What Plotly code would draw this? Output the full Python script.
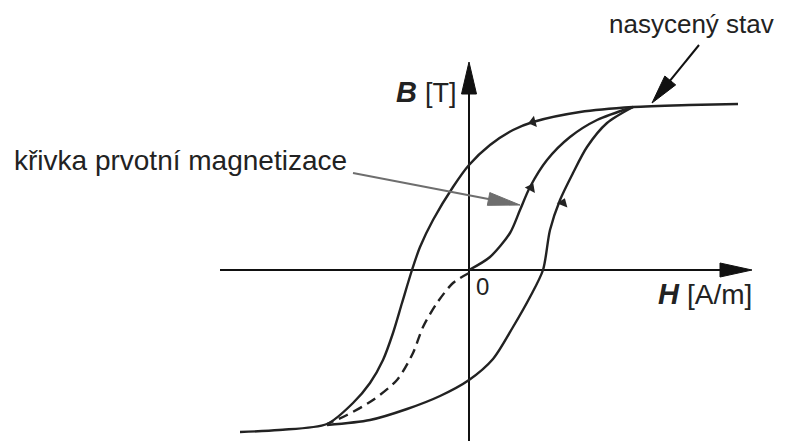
import plotly.graph_objects as go
import math

# hysteresis loop, H and B (origin = axis crossing)
H_upper = [269, 220, 164, 111, 64, 44, 21, 0, -16, -36, -49, -57, -67, -76, -86, -99, -116, -142, -190, -229]
B_upper = [166, 165, 163, 158, 148, 140, 125, 105, 83, 50, 23, 0, -33, -63, -90, -113, -133, -154, -160, -162]

H_lower = [-142, -99, -62, -29, 0, 24, 44, 61, 74, 81, 91, 104, 118, 138, 164]
B_lower = [-155, -150, -139, -126, -110, -89, -57, -27, 0, 40, 70, 97, 123, 147, 163]

H_init = [0, 21, 41, 51, 61, 78, 101, 128, 164]
B_init = [0, 13, 37, 60, 83, 110, 133, 150, 163]

H_dash = [0, -16, -32, -46, -56, -72, -96, -122, -142]
B_dash = [-3, -13, -33, -57, -83, -110, -130, -145, -154]

# direction marks sitting on the curves
H_marks = [64, 62, 94]
B_marks = [148, 82, 67]
mark_angles = [255, 28, 22]

INK = "#222222"
GREY = "#6e6e6e"
FONT = "Liberation Sans, Arial"


def head(tip, tail, length, width, color):
    dx, dy = tip[0] - tail[0], tip[1] - tail[1]
    n = math.hypot(dx, dy)
    ux, uy = dx / n, dy / n
    bx, by = tip[0] - ux * length, tip[1] - uy * length
    px, py = -uy * width / 2, ux * width / 2
    return go.Scatter(
        x=[tip[0], bx + px, bx - px, tip[0]],
        y=[tip[1], by + py, by - py, tip[1]],
        mode="lines", fill="toself", fillcolor=color,
        line=dict(color=color, width=1), hoverinfo="skip",
    )


def arrow(tail, tip, length, width, color, lw):
    dx, dy = tip[0] - tail[0], tip[1] - tail[1]
    n = math.hypot(dx, dy)
    stop = (tip[0] - dx / n * length * 0.8, tip[1] - dy / n * length * 0.8)
    return [
        go.Scatter(x=[tail[0], stop[0]], y=[tail[1], stop[1]], mode="lines",
                   line=dict(color=color, width=lw), hoverinfo="skip"),
        head(tip, tail, length, width, color),
    ]


fig = go.Figure()

# axes with arrows
fig.add_traces(arrow((-249, 0), (283, 0), 32, 14, "#111111", 2))
fig.add_traces(arrow((0, -171), (0, 208), 32, 15, "#111111", 2))

curve = dict(color=INK, width=2.4, shape="spline", smoothing=0.8)
fig.add_trace(go.Scatter(x=H_upper, y=B_upper, mode="lines", line=curve))
fig.add_trace(go.Scatter(x=H_lower, y=B_lower, mode="lines", line=curve))
fig.add_trace(go.Scatter(x=H_init, y=B_init, mode="lines", line=curve))
fig.add_trace(go.Scatter(x=H_dash, y=B_dash, mode="lines",
                         line=dict(curve, dash="10px,6px")))
fig.add_trace(go.Scatter(x=H_marks, y=B_marks, mode="markers",
                         marker=dict(symbol="triangle-up", size=10, color=INK,
                                     angle=mark_angles)))

# pointer arrows
fig.add_traces(arrow((230, 225), (183, 167), 29, 14, "#111111", 2))
fig.add_traces(arrow((-116, 97), (51, 65), 32, 13, GREY, 2))

fig.add_annotation(x=307, y=246, text="nasycený stav", showarrow=False,
                   xanchor="right", font=dict(size=26, color=INK))
fig.add_annotation(x=-457, y=110, text="křivka prvotní magnetizace", showarrow=False,
                   xanchor="left", font=dict(size=28, color=INK))
fig.add_annotation(x=-10, y=178, text="<b><i>B</i></b> <span style='font-size:27px'>[T]</span>",
                   showarrow=False, xanchor="right", font=dict(size=29, color=INK))
fig.add_annotation(x=285, y=-24, text="<b><i>H</i></b> <span style='font-size:28px'>[A/m]</span>",
                   showarrow=False, xanchor="right", font=dict(size=29, color=INK))
fig.add_annotation(x=13, y=-16, text="0", showarrow=False, font=dict(size=24, color=INK))

# page body keeps an 8px margin, so the figure is 8px smaller and starts 8px in
fig.update_layout(
    width=782, height=433,
    margin=dict(l=0, r=0, t=0, b=0),
    paper_bgcolor="white", plot_bgcolor="white",
    showlegend=False,
    font=dict(family=FONT, color=INK),
    xaxis=dict(range=[-461, 321], visible=False, fixedrange=True),
    yaxis=dict(range=[-171, 262], visible=False, fixedrange=True),
)

fig.write_html("out.html")
